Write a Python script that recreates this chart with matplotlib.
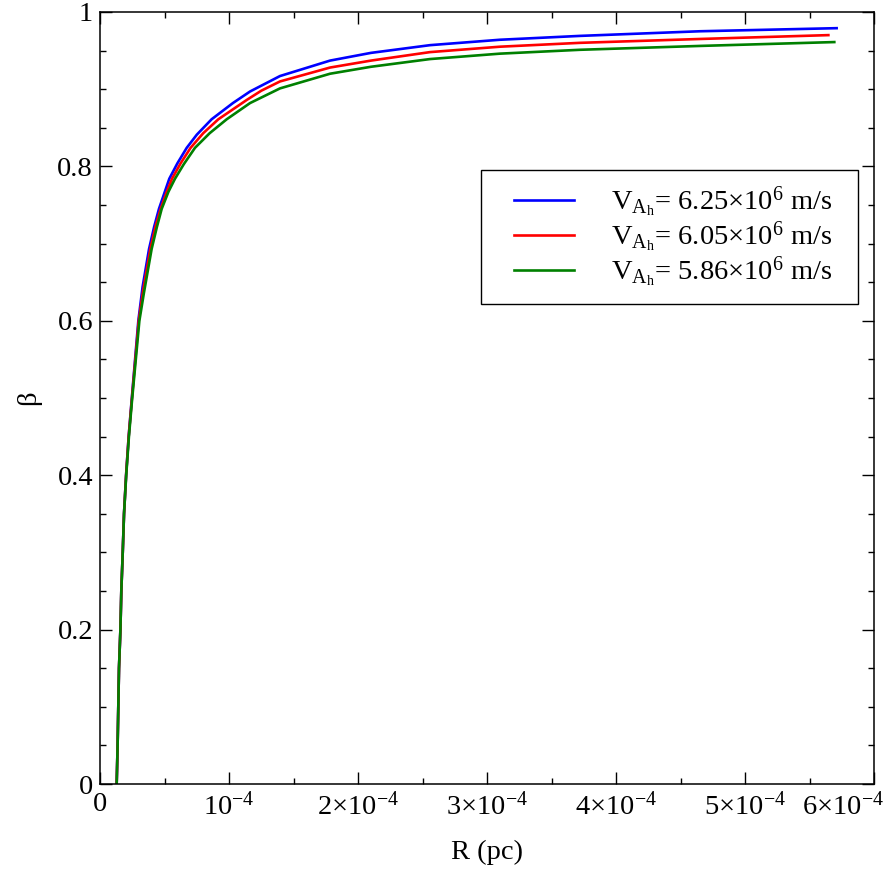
import matplotlib
matplotlib.use("Agg")
import matplotlib.pyplot as plt
from matplotlib.ticker import MultipleLocator, FuncFormatter
from matplotlib.transforms import ScaledTranslation
from matplotlib.path import Path

plt.rcParams['font.family'] = ['Liberation Serif', 'DejaVu Serif']
plt.rcParams['mathtext.fontset'] = 'custom'
plt.rcParams['mathtext.rm'] = 'Liberation Serif'
plt.rcParams['mathtext.it'] = 'Liberation Serif:italic'

# R in units of 1e-4 pc
r_blue = [0.129, 0.136, 0.147, 0.158, 0.165, 0.176, 0.186, 0.202, 0.222, 0.245, 0.297, 0.33,
          0.380, 0.42, 0.457, 0.50, 0.537, 0.60, 0.672, 0.75, 0.865, 1.03, 1.163, 1.395, 1.783,
          2.1, 2.558, 3.1, 3.72, 4.65, 5.71]
b_blue = [0.0, 0.048, 0.15, 0.2, 0.25, 0.3, 0.35, 0.4, 0.45, 0.497, 0.6, 0.644,
          0.693, 0.722, 0.745, 0.766, 0.784, 0.804, 0.824, 0.841, 0.861, 0.882, 0.897, 0.917, 0.937,
          0.947, 0.957, 0.964, 0.969, 0.975, 0.979]

r_red = [0.129, 0.136, 0.147, 0.158, 0.165, 0.176, 0.186, 0.202, 0.222, 0.246, 0.300, 0.335,
         0.390, 0.43, 0.47, 0.515, 0.558, 0.625, 0.702, 0.80, 0.917, 1.137, 1.25, 1.395, 1.783,
         2.1, 2.558, 3.1, 3.72, 4.65, 5.646]
b_red = [0.0, 0.048, 0.15, 0.2, 0.25, 0.3, 0.35, 0.4, 0.45, 0.497, 0.6, 0.640,
         0.693, 0.722, 0.745, 0.766, 0.784, 0.804, 0.824, 0.843, 0.861, 0.886, 0.898, 0.910, 0.928,
         0.937, 0.948, 0.955, 0.960, 0.965, 0.970]

r_green = [0.129, 0.136, 0.147, 0.158, 0.165, 0.176, 0.186, 0.203, 0.224, 0.248, 0.305, 0.34,
           0.400, 0.44, 0.478, 0.53, 0.581, 0.65, 0.736, 0.85, 0.982, 1.163, 1.395, 1.783,
           2.1, 2.558, 3.1, 3.72, 4.65, 5.692]
b_green = [0.0, 0.048, 0.15, 0.2, 0.25, 0.3, 0.35, 0.4, 0.45, 0.497, 0.6, 0.636,
           0.693, 0.721, 0.745, 0.767, 0.784, 0.803, 0.824, 0.843, 0.861, 0.882, 0.901, 0.920,
           0.929, 0.939, 0.946, 0.951, 0.956, 0.961]

labels = [r'V$_{\mathrm{A_h}}$= 6.25×10$^{6}$ m/s',
          r'V$_{\mathrm{A_h}}$= 6.05×10$^{6}$ m/s',
          r'V$_{\mathrm{A_h}}$= 5.86×10$^{6}$ m/s']
colors = ['#0000ff', '#ff0000', '#008000']


def xfmt(v, pos):
    k = int(round(v / 1e-4))
    if k == 0:
        return '0'
    if k == 1:
        return r'10$^{-4}$'
    return r'%d×10$^{-4}$' % k


def yfmt(v, pos):
    if abs(v) < 1e-9:
        return '0'
    if abs(v - 1) < 1e-9:
        return '1'
    return '%.1f' % v


def wide_frame(x0, y0, width, height, mutation_size):
    # square frame with some extra room on the right side
    ex = 0.43 * mutation_size
    x1 = x0 + width + ex
    y1 = y0 + height
    return Path([(x0, y0), (x1, y0), (x1, y1), (x0, y1), (x0, y0)], closed=True)


fs = 20.5
fig = plt.figure(figsize=(8.86, 8.86), dpi=100)
ax = fig.add_axes([0.1129, 0.1151, 0.8736, 0.8714])

for r, b, c, lab in zip([r_blue, r_red, r_green], [b_blue, b_red, b_green], colors, labels):
    ax.plot([v * 1e-4 for v in r], b, color=c, lw=1.9, label=lab)

ax.set_xlim(0, 6e-4)
ax.set_ylim(0, 1)
ax.xaxis.set_major_locator(MultipleLocator(1e-4))
ax.xaxis.set_minor_locator(MultipleLocator(0.5e-4))
ax.yaxis.set_major_locator(MultipleLocator(0.2))
ax.yaxis.set_minor_locator(MultipleLocator(0.05))
ax.xaxis.set_major_formatter(FuncFormatter(xfmt))
ax.yaxis.set_major_formatter(FuncFormatter(yfmt))

ax.tick_params(which='both', direction='in', top=True, right=True, labelsize=fs)
ax.tick_params(which='major', length=8.5, width=1.0)
ax.tick_params(which='minor', length=4.3, width=1.0)
ax.tick_params(axis='x', pad=6)
ax.tick_params(axis='y', pad=5)
for s in ax.spines.values():
    s.set_linewidth(1.1)

ax.set_xlabel('R (pc)', fontsize=fs, labelpad=14)
ax.set_ylabel('β', fontsize=fs, labelpad=12)

leg = ax.legend(loc='upper right', bbox_to_anchor=(0.9638, 0.795), fontsize=fs,
                frameon=True, fancybox=False, edgecolor='black', framealpha=1,
                handlelength=2.74, handletextpad=1.3, labelspacing=0.0, borderpad=0.5,
                borderaxespad=0.0)
leg.get_frame().set_linewidth(1.0)
leg.get_frame().set_boxstyle(wide_frame)
# legend lines start a little right of the handle box
for ln in leg.get_lines():
    xd = list(ln.get_xdata())
    xd[0] = xd[0] + 13
    ln.set_xdata(xd)

# last x tick label is pushed left so it stays inside the figure
fig.canvas.draw()
for t in ax.xaxis.get_major_ticks():
    if abs(t.get_loc() - 6e-4) < 1e-9:
        t.label1.set_horizontalalignment('right')
        t.label1.set_transform(t.label1.get_transform()
                               + ScaledTranslation(10 / 100, 0, fig.dpi_scale_trans))

fig.savefig('out.png', dpi=100)
